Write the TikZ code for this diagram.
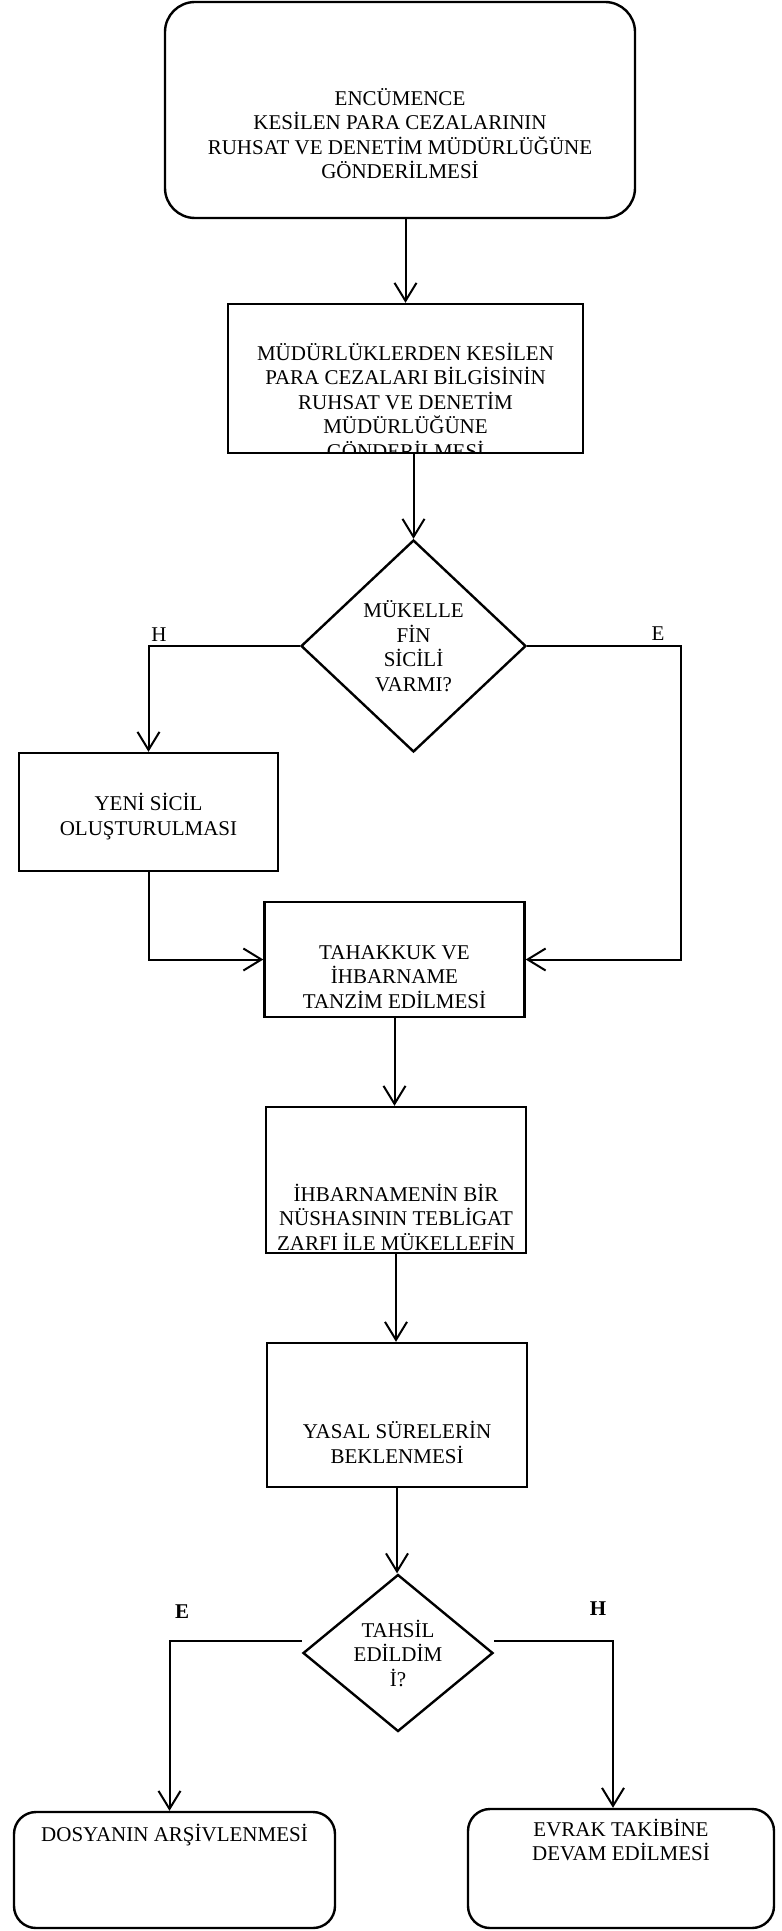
\documentclass[tikz,border=0pt]{standalone}
\usepackage{fontspec}
\setmainfont{Liberation Serif}
\usetikzlibrary{arrows.meta, shapes.geometric}

\tikzset{
  procbox/.style={draw, rectangle, line width=1.2pt, inner sep=0pt, align=center},
  roundbox/.style={procbox, rounded corners=#1},
  roundbox/.default=11pt,
  decision/.style={draw, diamond, line width=1.2pt, inner sep=0pt, align=center},
  arr/.style={-{Straight Barb[length=9pt, width=11pt]}},
}
% struts that push the text down / up inside a fixed-size box
\newcommand\padtop[1]{\rule{0pt}{#1}}
\newcommand\padbot[1]{\rule[-#1]{0pt}{0pt}}

\begin{document}
\begin{tikzpicture}[black, line width=1pt, x=0.5pt, y=-0.5pt,
    font={\fontsize{10.5}{12.25}\selectfont}]
    \newcommand\BoxW{130pt}
    \path[use as bounding box, fill=white] (0,0) rectangle (781,1931);

    \node[roundbox=15pt, minimum width=235pt, minimum height=108pt] (encumen) at (400,110)
      {\padtop{32pt}ENCÜMENCE\\KESİLEN PARA CEZALARININ\\RUHSAT VE DENETİM MÜDÜRLÜĞÜNE\\GÖNDERİLMESİ};
    \node[procbox, minimum width=177.5pt, minimum height=74.5pt,
      path picture={\node[draw=none, inner sep=0pt, align=center] (mudurtxt)
        at ([yshift=-11pt]path picture bounding box.center)
        {MÜDÜRLÜKLERDEN KESİLEN\\PARA CEZALARI BİLGİSİNİN\\RUHSAT VE DENETİM\\MÜDÜRLÜĞÜNE\\GÖNDERİLMESİ};}]
      (mudur) at (405.5,378.5) {};
    \node[decision, minimum width=112.5pt, minimum height=106pt] (sicil) at (413.5,646)
      {MÜKELLE\\FİN\\SİCİLİ\\VARMI?};
    \node[procbox, minimum width=129.5pt, minimum height=59pt] (yeni) at (148.5,812)
      {\padtop{13pt}YENİ SİCİL\\OLUŞTURULMASI};
    \node[procbox, minimum width=\BoxW, minimum height=57.5pt] (tahakkuk) at (394.5,959.5)
      {\padtop{24.5pt}TAHAKKUK VE\\İHBARNAME\\TANZİM EDİLMESİ};
    \node[procbox, minimum width=\BoxW, minimum height=73pt] (ihbar) at (396,1180)
      {\padtop{46pt}İHBARNAMENİN BİR\\NÜSHASININ TEBLİGAT\\ZARFI İLE MÜKELLEFİN};
    \node[procbox, minimum width=\BoxW, minimum height=72pt] (yasal) at (397,1415)
      {\padtop{36pt}YASAL SÜRELERİN\\BEKLENMESİ};
    \node[decision, minimum width=95pt, minimum height=78.5pt] (tahsil) at (398,1653)
      {TAHSİL\\EDİLDİM\\İ?};
    \node[roundbox, minimum width=160.5pt, minimum height=58pt] (arsiv) at (174.5,1870)
      {DOSYANIN ARŞİVLENMESİ\padbot{37.5pt}};
    \node[roundbox, minimum width=153pt, minimum height=59.5pt] (evrak) at (621,1868.5)
      {EVRAK TAKİBİNE\\DEVAM EDİLMESİ\padbot{28.5pt}};

    \node (labH) at (159,635) {H};
    \node (labE) at (658,634) {E};
    \node (labE2) at (182,1612) {\bfseries E};
    \node (labH2) at (598,1609) {\bfseries H};
    \coordinate (ecol) at (681,646);

    \draw[arr] (mudur.north |- encumen.south) -- (mudur.north);
    \draw[arr] (sicil.north |- mudur.south) -- (sicil.north);
    \draw[arr] (sicil.west) -| (yeni.north);
    \draw[arr] (sicil.east) -| (ecol |- tahakkuk.east) -- (tahakkuk.east);
    \draw[arr] (yeni.south) |- (tahakkuk.west);
    \draw[arr] (tahakkuk.south) -- (tahakkuk.south |- ihbar.north);
    \draw[arr] (ihbar.south) -- (ihbar.south |- yasal.north);
    \draw[arr] (yasal.south) -- (yasal.south |- tahsil.north);
    \draw[arr] ([yshift=6pt]tahsil.west) -| ([xshift=-2.5pt]arsiv.north);
    \draw[arr] ([yshift=6pt]tahsil.east) -| ([xshift=-4pt]evrak.north);
\end{tikzpicture}
\end{document}
